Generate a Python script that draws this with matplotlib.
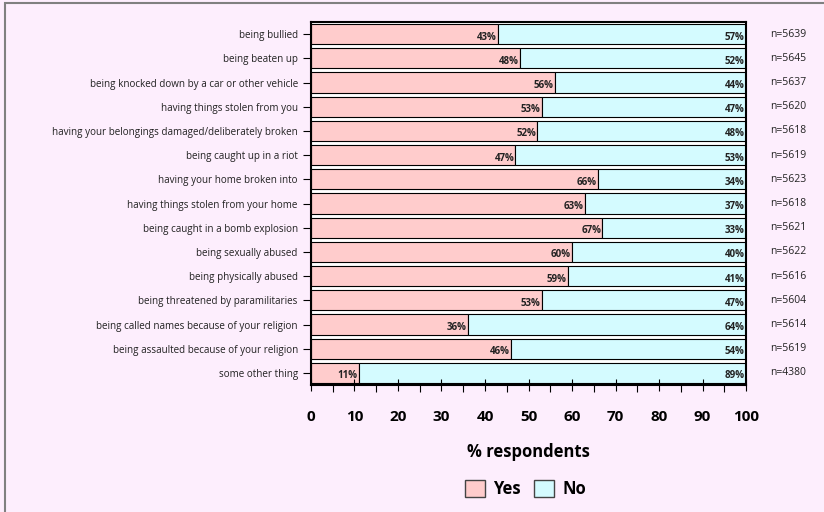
import matplotlib.pyplot as plt
import numpy as np
from matplotlib.patches import Rectangle

categories = [
    "being bullied",
    "being beaten up",
    "being knocked down by a car or other vehicle",
    "having things stolen from you",
    "having your belongings damaged/deliberately broken",
    "being caught up in a riot",
    "having your home broken into",
    "having things stolen from your home",
    "being caught in a bomb explosion",
    "being sexually abused",
    "being physically abused",
    "being threatened by paramilitaries",
    "being called names because of your religion",
    "being assaulted because of your religion",
    "some other thing",
]
yes_pct = [43, 48, 56, 53, 52, 47, 66, 63, 67, 60, 59, 53, 36, 46, 11]
no_pct = [57, 52, 44, 47, 48, 53, 34, 37, 33, 40, 41, 47, 64, 54, 89]
n_resp = [5639, 5645, 5637, 5620, 5618, 5619, 5623, 5618, 5621, 5622, 5616, 5604, 5614, 5619, 4380]

plt.rcParams['font.family'] = ['Open Sans', 'DejaVu Sans']

BG = '#fdeefd'
YES_C = '#ffcccc'
NO_C = '#d4fbff'

fig = plt.figure(figsize=(8.24, 5.12), dpi=100, facecolor=BG)
fig.patches.append(Rectangle((0.006, -0.01), 1.1, 1.004, transform=fig.transFigure,
                             facecolor='none', edgecolor='#808080', linewidth=1.5))
ax = fig.add_axes([0.3774, 0.248, 0.528, 0.709])
ax.set_facecolor('white')

y = np.arange(len(categories))
yes = np.array(yes_pct)
no = np.array(no_pct)
ax.barh(y, yes, height=0.84, color=YES_C, edgecolor='black', linewidth=0.8)
ax.barh(y, no, left=yes, height=0.84, color=NO_C, edgecolor='black', linewidth=0.8)

for i in range(len(categories)):
    ax.text(yes[i] - 0.3, y[i] + 0.12, f'{yes[i]}%', ha='right', va='center',
            fontsize=7, fontweight='bold', color='#222222')
    ax.text(yes[i] + no[i] - 0.3, y[i] + 0.12, f'{no[i]}%', ha='right', va='center',
            fontsize=7, fontweight='bold', color='#222222')
    ax.text(105.5, y[i], f'n={n_resp[i]}', ha='left', va='center', fontsize=7.5,
            color='#222222', clip_on=False)

ax.set_xlim(0, 100)
ax.set_ylim(len(categories) - 0.5, -0.5)
ax.set_yticks(y)
ax.set_yticklabels(categories, fontsize=7.1, color='#222222')
ax.tick_params(axis='y', length=6, width=0.8)
ax.set_xticks(np.arange(0, 101, 10))
ax.set_xticks(np.arange(5, 100, 10), minor=True)
ax.tick_params(axis='x', which='major', direction='inout', length=8, width=0.8, pad=14,
               labelsize=11)
ax.tick_params(axis='x', which='minor', direction='out', length=5, width=0.8)
for lbl in ax.get_xticklabels():
    lbl.set_fontweight('bold')
ax.set_xlabel('% respondents', fontsize=12, fontweight='bold', labelpad=14)
for s in ax.spines.values():
    s.set_linewidth(1.5)

h = [Rectangle((0, 0), 1, 1, facecolor=YES_C, edgecolor='#444444'),
     Rectangle((0, 0), 1, 1, facecolor=NO_C, edgecolor='#444444')]
leg = fig.legend(h, ['Yes', 'No'], loc='center', bbox_to_anchor=(0.638, 0.045), ncol=2,
                 frameon=False, prop={'weight': 'bold', 'size': 12},
                 handlelength=1.2, handleheight=1.2, handletextpad=0.5, columnspacing=0.8)

fig.savefig('out.png', dpi=100, facecolor=BG)
